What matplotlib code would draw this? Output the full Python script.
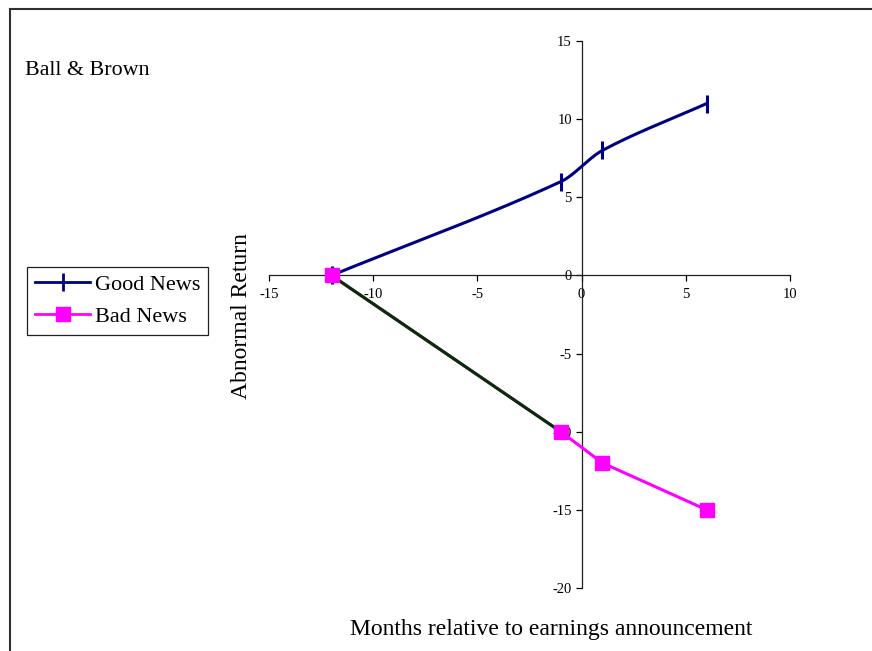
import matplotlib
matplotlib.use("Agg")
import matplotlib.pyplot as plt
import numpy as np
from matplotlib.lines import Line2D

# Ball & Brown cumulative abnormal returns around the earnings announcement
months = [-12, -1, 1, 6]
good_news = [0, 6, 8, 11]
bad_news = [0, -10, -12, -15]

x_ticks = [-15, -10, -5, 0, 5, 10]
y_ticks = [-20, -15, -10, -5, 0, 5, 10, 15]

navy = "#000080"
magenta = "#ff00ff"
dark_green = "#003300"

plt.rcParams["font.family"] = ["Liberation Serif", "DejaVu Serif"]


def smooth_curve(xs, ys, n=80):
    # piecewise cubic Hermite through the points, tangents from neighbours
    xs = np.asarray(xs, float)
    ys = np.asarray(ys, float)
    m = np.empty_like(ys)
    m[0] = (ys[1] - ys[0]) / (xs[1] - xs[0])
    m[-1] = (ys[-1] - ys[-2]) / (xs[-1] - xs[-2])
    m[1:-1] = (ys[2:] - ys[:-2]) / (xs[2:] - xs[:-2])
    out_x, out_y = [xs[0]], [ys[0]]
    for i in range(len(xs) - 1):
        h = xs[i + 1] - xs[i]
        t = np.linspace(0, 1, n)[1:]
        h00 = 2 * t ** 3 - 3 * t ** 2 + 1
        h10 = t ** 3 - 2 * t ** 2 + t
        h01 = -2 * t ** 3 + 3 * t ** 2
        h11 = t ** 3 - t ** 2
        out_x.extend(xs[i] + t * h)
        out_y.extend(h00 * ys[i] + h10 * h * m[i] + h01 * ys[i + 1]
                     + h11 * h * m[i + 1])
    return np.array(out_x), np.array(out_y)


fig = plt.figure(figsize=(8.72, 6.51), dpi=100)
ax = fig.add_axes([0.3085, 0.0968, 0.5975, 0.8402])

sx, sy = smooth_curve(months, good_news)
ax.plot(sx, sy, color=navy, lw=2.2, zorder=3)
ax.plot(months, good_news, ls="none", marker="|", ms=13, mew=2.2,
        color=navy, zorder=4)

ax.plot(months, bad_news, color=magenta, lw=2.2, zorder=3)
ax.plot(months[:2], bad_news[:2], color=dark_green, lw=2.2, zorder=3.5)
ax.plot(months, bad_news, ls="none", marker="s", ms=10, color=magenta,
        zorder=5)

ax.set_xlim(-15, 10)
ax.set_ylim(-20, 15)
ax.set_xticks(x_ticks)
ax.set_yticks(y_ticks)

ax.spines["left"].set_position(("data", 0))
ax.spines["bottom"].set_position(("data", 0))
ax.spines["right"].set_visible(False)
ax.spines["top"].set_visible(False)
for s in ("left", "bottom"):
    ax.spines[s].set_linewidth(0.9)
    ax.spines[s].set_color("#202020")

ax.tick_params(axis="x", direction="out", length=4, width=0.9, pad=5,
               labelsize=10.5)
ax.tick_params(axis="y", direction="out", length=4, width=0.9, pad=3,
               labelsize=10.5)
ax.set_xticklabels([str(v) for v in x_ticks])
ax.set_yticklabels([str(v) for v in y_ticks])

fig.text(0.2775, 0.514, "Abnormal Return", rotation=90, fontsize=17,
         ha="center", va="center")
fig.text(0.632, 0.033, "Months relative to earnings announcement",
         fontsize=17, ha="center", va="center")
fig.text(0.0287, 0.891, "Ball & Brown", fontsize=15.8, ha="left",
         va="center")

handles = [
    Line2D([], [], color=navy, lw=2, marker="|", ms=13, mew=2),
    Line2D([], [], color=magenta, lw=2, marker="s", ms=10),
]
leg = fig.legend(handles, ["Good News", "Bad News"], loc="upper left",
                 bbox_to_anchor=(0.031, 0.59), fontsize=16, frameon=True,
                 fancybox=False, framealpha=1, edgecolor="#202020",
                 handlelength=2.5, borderpad=0.35, labelspacing=0.5,
                 handletextpad=0.2, borderaxespad=0)
leg.get_frame().set_linewidth(0.9)

# outer chart border, left and top edges
fig.add_artist(Line2D([0.011, 0.011], [0, 0.986], color="#303030", lw=1.5,
                      transform=fig.transFigure))
fig.add_artist(Line2D([0.011, 1], [0.986, 0.986], color="#303030", lw=1.5,
                      transform=fig.transFigure))

fig.savefig("out.png", dpi=100)
